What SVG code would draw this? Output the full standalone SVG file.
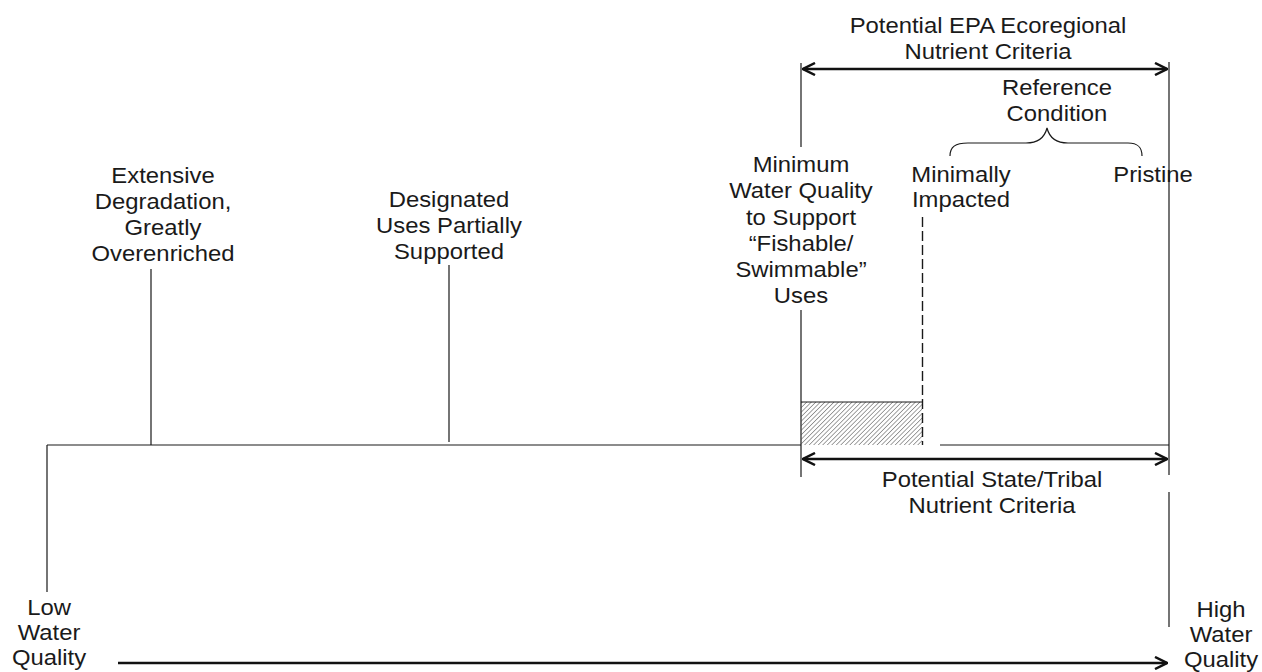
<svg xmlns="http://www.w3.org/2000/svg" width="1262" height="672" viewBox="0 0 1262 672">
<style>
  .lbl { font-family: "Liberation Sans", Arial, sans-serif; font-size: 21.3px; fill: #1a1a1a; text-anchor: middle; }
  .thin { stroke: #1a1a1a; stroke-width: 1.2; fill: none; }
  .dash { stroke: #1a1a1a; stroke-width: 1.4; fill: none; stroke-dasharray: 10 4; }
  .arr { stroke: #111; stroke-width: 2.5; fill: none; }
</style>
<defs>
  <marker id="head" viewBox="0 0 14 14" refX="13" refY="7" markerWidth="14" markerHeight="14" markerUnits="userSpaceOnUse" orient="auto-start-reverse">
    <path d="M1,1 L13,7 L1,13" fill="none" stroke="#111" stroke-width="2.5"/>
  </marker>
  <pattern id="hatch" width="3.2" height="3.2" patternUnits="userSpaceOnUse" patternTransform="rotate(45)">
    <line x1="0" y1="0" x2="0" y2="3.2" stroke="#444" stroke-width="1"/>
  </pattern>
</defs>
<rect width="1262" height="672" fill="#fff"/>
<g id="connectors">
  <path class="thin" d="M47,445 H801 M940,445 H1169 M47,445 V592"/>
  <path class="thin" d="M151,269 V445 M449,265 V442"/>
  <path class="thin" d="M801,63 V147 M801,310 V477"/>
  <path class="thin" d="M1169,62 V475 M1169,492 V627"/>
  <rect x="801" y="402" width="121" height="43" fill="url(#hatch)"/>
  <path class="thin" d="M801,402 H922"/>
  <path class="dash" d="M922.5,217 V445"/>
  <path class="thin" d="M950,156 C950,147 955,143 968,143 L1026,143 C1040,143 1045,136 1047,128 C1049,136 1054,143 1068,143 L1128,143 C1138,143 1142,147 1142,156"/>
  <path class="arr" d="M803,69 H1167" marker-start="url(#head)" marker-end="url(#head)"/>
  <path class="arr" d="M803,459 H1167" marker-start="url(#head)" marker-end="url(#head)"/>
  <path class="arr" d="M118,663 H1167" stroke-width="2" marker-end="url(#head)"/>
</g>
<g id="node-extensive">
  <text class="lbl" transform="translate(163,183) scale(1.12,1)"><tspan x="0" y="0">Extensive</tspan><tspan x="0" dy="26">Degradation,</tspan><tspan x="0" dy="26">Greatly</tspan><tspan x="0" dy="26">Overenriched</tspan></text>
</g>
<g id="node-designated">
  <text class="lbl" transform="translate(449,207) scale(1.12,1)"><tspan x="0" y="0">Designated</tspan><tspan x="0" dy="26">Uses Partially</tspan><tspan x="0" dy="26">Supported</tspan></text>
</g>
<g id="node-minimum">
  <text class="lbl" transform="translate(801,172) scale(1.12,1)"><tspan x="0" y="0">Minimum</tspan><tspan x="0" dy="26.3">Water Quality</tspan><tspan x="0" dy="26.3">to Support</tspan><tspan x="0" dy="26.3">“Fishable/</tspan><tspan x="0" dy="26.3">Swimmable”</tspan><tspan x="0" dy="26.3">Uses</tspan></text>
</g>
<g id="node-minimally">
  <text class="lbl" transform="translate(961,182) scale(1.12,1)"><tspan x="0" y="0">Minimally</tspan><tspan x="0" dy="25">Impacted</tspan></text>
</g>
<g id="node-reference">
  <text class="lbl" transform="translate(1057,95) scale(1.12,1)"><tspan x="0" y="0">Reference</tspan><tspan x="0" dy="26">Condition</tspan></text>
</g>
<g id="node-epa">
  <text class="lbl" transform="translate(988,33) scale(1.12,1)"><tspan x="0" y="0">Potential EPA Ecoregional</tspan><tspan x="0" dy="26">Nutrient Criteria</tspan></text>
</g>
<g id="node-pristine">
  <text class="lbl" transform="translate(1153,182) scale(1.12,1)">Pristine</text>
</g>
<g id="node-state">
  <text class="lbl" transform="translate(992,487) scale(1.12,1)"><tspan x="0" y="0">Potential State/Tribal</tspan><tspan x="0" dy="26">Nutrient Criteria</tspan></text>
</g>
<g id="node-low">
  <text class="lbl" transform="translate(49,615) scale(1.12,1)"><tspan x="0" y="0">Low</tspan><tspan x="0" dy="25">Water</tspan><tspan x="0" dy="25">Quality</tspan></text>
</g>
<g id="node-high">
  <text class="lbl" transform="translate(1221,617) scale(1.12,1)"><tspan x="0" y="0">High</tspan><tspan x="0" dy="25">Water</tspan><tspan x="0" dy="25">Quality</tspan></text>
</g>
</svg>
